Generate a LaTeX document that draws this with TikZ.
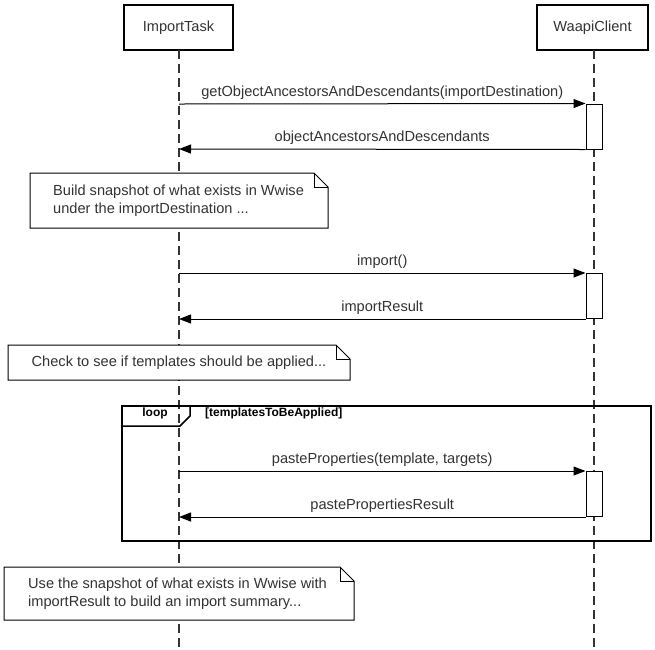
\documentclass[tikz,border=0pt]{standalone}
\usepackage{fontspec}
\setmainfont{Liberation Sans}
\usetikzlibrary{arrows.meta,calc}
\definecolor{inkgray}{HTML}{333333}
\tikzset{
  actor/.style={draw,line width=2pt,minimum height=45pt,inner sep=0pt,text=inkgray,font=\fontsize{14.6}{17}\selectfont},
  lifeline/.style={line width=1.5pt,draw=inkgray,dash pattern=on 9pt off 5pt},
  activation/.style={draw,fill=white,line width=1pt,minimum width=16pt,minimum height=45pt,inner sep=0pt},
  msg/.style={line width=1pt,-{Triangle[length=12pt,width=9pt]}},
  msglabel/.style={above=3pt,text=inkgray,font=\fontsize{14.6}{17}\selectfont,inner sep=1pt},
  notebox/.style={align=left,text=inkgray,font=\fontsize{14.6}{18}\selectfont,inner sep=0pt},
  looptext/.style={font=\fontsize{12}{14}\selectfont\bfseries,inner sep=0pt}
}
\newcommand{\dogear}[2]{% corner box with folded corner
  \draw[line width=1pt] (#1) |- ($(#2)+(-14pt,0)$) -- ++(14pt,-14pt) |- (#1) -- cycle;
  \draw[line width=1pt] ($(#2)+(-14pt,0)$) |- ++(14pt,-14pt);
}
\begin{document}
\begin{tikzpicture}[x=1pt,y=-1pt]
  \useasboundingbox (0,0) rectangle (655,649);
  % Lifelines
  \node[actor,minimum width=109pt] (task) at (178.5,27.5) {ImportTask};
  \node[actor,minimum width=111pt] (client) at (592.5,27.5) {WaapiClient};
  \coordinate (taskend) at (179,649);
  \coordinate (clientend) at (594,649);
  \draw[lifeline] (179,50) -- (taskend);
  \draw[lifeline] (594,50) -- (clientend);
  % Loop frame
  \draw[line width=2pt] (122,406) rectangle (651,541);
  \draw[line width=1.5pt] (122,426) -- (180,426) -- (190,416) -- (190,406);
  \node[looptext] (looplabel) at (155,413.5) {loop};
  \node[looptext,anchor=west] (loopcond) at (205,413.5) {[templatesToBeApplied]};
  % Activations
  \node[activation] (act1) at (594,126.5) {};
  \node[activation] (act2) at (594,296) {};
  \node[activation] (act3) at (594,494) {};
  % Calls and replies
  \coordinate (call1) at (179,104);
  \coordinate (back1) at (179,149);
  \draw[msg] (call1) -- (act1.north west) node[msglabel,midway] {getObjectAncestorsAndDescendants(importDestination)};
  \draw[msg] (act1.south west) -- (back1) node[msglabel,midway] {objectAncestorsAndDescendants};
  \coordinate (call2) at (179,273);
  \coordinate (back2) at (179,319);
  \draw[msg] (call2) -- (act2.north west) node[msglabel,midway] {import()};
  \draw[msg] (act2.south west) -- (back2) node[msglabel,midway] {importResult};
  \coordinate (call3) at (179,471);
  \coordinate (back3) at (179,517);
  \draw[msg] (call3) -- (act3.north west) node[msglabel,midway] {pasteProperties(template, targets)};
  \draw[msg] (act3.south west) -- (back3) node[msglabel,midway] {pastePropertiesResult};
  % Notes
  \fill[white] (30,173) rectangle (328,228);
  \dogear{30,228}{328,173}
  \node[notebox,anchor=west] (note1) at (53,200.5) {Build snapshot of what exists in Wwise\\under the importDestination ...};
  \fill[white] (8,345) rectangle (350,380);
  \dogear{8,380}{350,345}
  \node[notebox] (note2) at (179,362.5) {Check to see if templates should be applied...};
  \fill[white] (4,567) rectangle (354,620);
  \dogear{4,620}{354,567}
  \node[notebox,anchor=west] (note3) at (28,593.5) {Use the snapshot of what exists in Wwise with\\importResult to build an import summary...};
\end{tikzpicture}
\end{document}
